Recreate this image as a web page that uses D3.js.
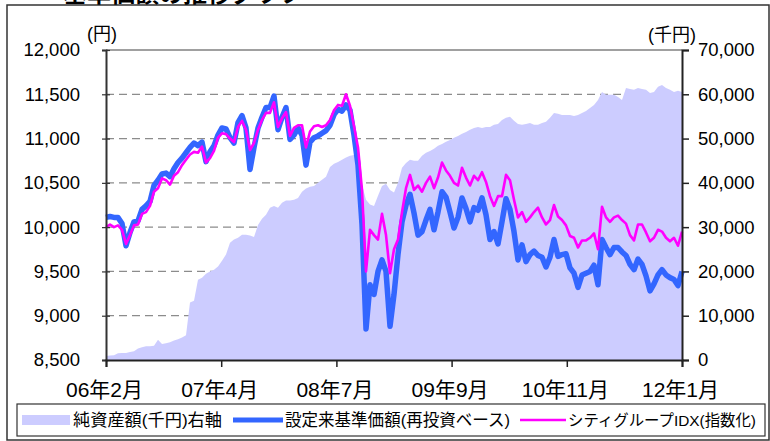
<!DOCTYPE html>
<html>
<head>
<meta charset="utf-8">
<script src="https://cdn.jsdelivr.net/npm/d3@7"></script>
<style>
  body { margin: 0; background: #fff; }
  svg { display: block; }
  text { font-family: "Liberation Sans", Arial, "Noto Sans CJK JP", sans-serif; fill: #000; }
</style>
</head>
<body>
<svg id="chart" width="770" height="441"></svg>
<script>
// x-axis category labels (evenly spaced over the period)
const tickLabels = ['06年2月', '07年4月', '08年7月', '09年9月', '10年11月', '12年1月'];

// 設定来基準価額(再投資ベース), 円
const navValues = [
  10110, 10120, 10110, 10110, 10040, 9790, 9940, 10060, 10070, 10200,
  10240, 10290, 10470, 10530, 10600, 10610, 10570, 10660, 10730, 10780,
  10840, 10900, 10950, 10920, 10960, 10740, 10850, 10920, 11040, 11120,
  11110, 11010, 10950, 11180, 11260, 11120, 10650, 10900, 11120, 11240,
  11350, 11350, 11480, 11100, 11240, 11350, 10990, 11040, 11120, 11040,
  10700, 10960, 11010, 11030, 11060, 11090, 11150, 11270, 11330, 11310,
  11380, 11320, 11040, 10700, 10030, 8850, 9350, 9240, 9500, 9630,
  9500, 8880, 9240, 9690, 10060, 10250, 10370, 10160, 9910, 9950,
  10080, 10200, 9970, 10170, 10400, 10340, 10170, 9990, 10110, 10330,
  10210, 10060, 10220, 10190, 10330, 10140, 9860, 9950, 9810, 10060,
  10320, 10200, 9950, 9630, 9800, 9610, 9690, 9730, 9680, 9660,
  9550, 9660, 9860, 9670, 9690, 9700, 9540, 9480, 9320, 9460,
  9480, 9500, 9570, 9350, 9860, 9770, 9690, 9770, 9770, 9720,
  9680, 9580, 9520, 9640, 9580, 9450, 9280, 9360, 9460, 9520,
  9460, 9430, 9410, 9340, 9500
];

// シティグループIDX(指数化), 円
const indexValues = [
  10000, 10030, 10000, 10020, 9970, 9810, 9910, 10020, 10030, 10150,
  10170, 10240, 10400, 10440, 10550, 10530, 10480, 10580, 10620, 10700,
  10760, 10820, 10850, 10840, 10910, 10730, 10780, 10860, 11010, 11060,
  11050, 11000, 10960, 11130, 11200, 11100, 10870, 10950, 11100, 11210,
  11290, 11290, 11410, 11130, 11230, 11300, 11030, 11120, 11150, 11150,
  10900, 11080, 11140, 11150, 11130, 11150, 11210, 11320, 11380, 11370,
  11500, 11370, 11140, 10900, 10420, 9500, 9970, 9910, 9860, 10150,
  9910, 9480, 9750, 9860, 10170, 10440, 10590, 10420, 10470, 10400,
  10500, 10570, 10440, 10560, 10730, 10640, 10580, 10500, 10470, 10670,
  10560, 10470, 10580, 10530, 10620, 10510, 10350, 10240, 10350, 10350,
  10590, 10530, 10310, 10110, 10170, 10060, 10110, 10170, 10220, 10110,
  10030, 10080, 10250, 10120, 10080, 10020, 9900, 9880, 9770, 9850,
  9850, 9880, 9930, 9750, 10230, 10110, 10060, 10110, 10130, 10080,
  10040, 9910, 9850, 10030, 10030, 9940, 9840, 9880, 9970, 9950,
  9880, 9840, 9880, 9790, 9950
];

// 純資産額(千円), right axis
const netAssets = [
  900, 1000, 1100, 1500, 1600, 1600, 1800, 2000, 2600, 2900,
  3100, 3100, 3200, 4600, 3600, 3800, 4000, 4400, 4700, 5100,
  5600, 13000, 13400, 18100, 18600, 19500, 20000, 20400, 21100, 22400,
  23800, 26500, 27200, 27600, 28300, 28300, 28100, 27800, 30500, 31900,
  32800, 34400, 34800, 34400, 35500, 36000, 36000, 36200, 36600, 38000,
  38700, 39100, 39300, 40000, 40700, 41400, 43600, 44300, 44700, 45200,
  45700, 46100, 46300, 44100, 39600, 36200, 35100, 34800, 37100, 39300,
  39800, 38400, 37800, 40000, 43400, 44500, 45200, 45000, 45000, 46100,
  46800, 47200, 47700, 48400, 48800, 49300, 49700, 50200, 50600, 51100,
  51500, 52000, 52400, 52600, 52400, 52600, 52600, 53100, 53300, 54200,
  54700, 54900, 54000, 53300, 53100, 53300, 53500, 53100, 53100, 53500,
  53800, 54700, 55800, 55600, 55300, 55300, 55300, 55100, 55300, 55800,
  56200, 56900, 57600, 58700, 60500, 59900, 59900, 59900, 59400, 58700,
  61400, 61200, 61000, 61400, 61200, 61000, 60300, 60500, 61700, 62100,
  61400, 61000, 60500, 60800, 60500
];

const leftTicks = [8500, 9000, 9500, 10000, 10500, 11000, 11500, 12000];
const rightTicks = [0, 10000, 20000, 30000, 40000, 50000, 60000, 70000];

const legendItems = ['純資産額(千円)右軸', '設定来基準価額(再投資ベース)', 'シティグループIDX(指数化)'];

const svg = d3.select('#chart');

const plotLeft = 106, plotRight = 682, plotTop = 50, plotBottom = 360;

const x = d3.scaleLinear().domain([0, navValues.length - 1]).range([plotLeft, plotRight]);
const xCat = d3.scalePoint().domain(tickLabels).range([plotLeft, plotRight]);
const yL = d3.scaleLinear().domain([8500, 12000]).range([plotBottom, plotTop]);
const yR = d3.scaleLinear().domain([0, 70000]).range([plotBottom, plotTop]);

// outer frame + title (cut off at the top, as in the source)
svg.append('rect')
  .attr('x', 7).attr('y', 5).attr('width', 762).attr('height', 435)
  .attr('fill', 'none').attr('stroke', '#333').attr('stroke-width', 1.5);

svg.append('text')
  .attr('x', 63).attr('y', 2)
  .attr('font-size', 24).attr('font-weight', 'bold')
  .text('基準価額の推移グラフ');

// dashed gridlines (behind the area)
svg.append('g')
  .selectAll('line')
  .data(leftTicks.slice(1, -1))
  .join('line')
  .attr('x1', plotLeft).attr('x2', plotRight)
  .attr('y1', d => yL(d)).attr('y2', d => yL(d))
  .attr('stroke', '#8c8c8c').attr('stroke-width', 1.2)
  .attr('stroke-dasharray', '8,5');

// net assets area
const area = d3.area()
  .x((d, i) => x(i))
  .y0(plotBottom)
  .y1(d => yR(d));

svg.append('path')
  .datum(netAssets)
  .attr('d', area)
  .attr('fill', '#ccccff');

// lines
const lineL = d3.line().x((d, i) => x(i)).y(d => yL(d));

svg.append('path')
  .datum(navValues)
  .attr('d', lineL)
  .attr('fill', 'none')
  .attr('stroke', '#3366ff')
  .attr('stroke-width', 5.5)
  .attr('stroke-linejoin', 'round');

svg.append('path')
  .datum(indexValues)
  .attr('d', lineL)
  .attr('fill', 'none')
  .attr('stroke', '#ff00ff')
  .attr('stroke-width', 2.6)
  .attr('stroke-linejoin', 'round');

// plot border
svg.append('line')
  .attr('x1', plotLeft).attr('x2', plotRight).attr('y1', plotTop).attr('y2', plotTop)
  .attr('stroke', '#808080').attr('stroke-width', 1.5);

// left axis
const gL = svg.append('g')
  .attr('transform', `translate(${plotLeft},0)`)
  .call(d3.axisLeft(yL).tickValues(leftTicks).tickFormat(d3.format(',')).tickSize(4).tickPadding(22))
  .attr('font-family', null).attr('font-size', 18.5);
gL.select('.domain').attr('stroke', '#333').attr('stroke-width', 2);
gL.selectAll('.tick line').attr('x1', -4).attr('x2', 4).attr('stroke', '#333').attr('stroke-width', 1.2);
gL.selectAll('.tick text').attr('fill', '#000');

// right axis
const gR = svg.append('g')
  .attr('transform', `translate(${plotRight},0)`)
  .call(d3.axisRight(yR).tickValues(rightTicks).tickFormat(d3.format(',')).tickSize(7).tickPadding(9))
  .attr('font-family', null).attr('font-size', 18.5);
gR.select('.domain').attr('stroke', '#222').attr('stroke-width', 2);
gR.selectAll('.tick line').attr('stroke', '#222').attr('stroke-width', 1.5);
gR.selectAll('.tick text').attr('fill', '#000');

// bottom axis
const gB = svg.append('g')
  .attr('transform', `translate(0,${plotBottom})`)
  .call(d3.axisBottom(xCat).tickSize(7).tickPadding(15))
  .attr('font-family', null).attr('font-size', 21);
gB.select('.domain').attr('stroke', '#222').attr('stroke-width', 2);
gB.selectAll('.tick line').attr('stroke', '#222').attr('stroke-width', 1.5);
gB.selectAll('.tick text').attr('fill', '#000').attr('dx', -2);

// unit labels
svg.append('text').attr('x', 87).attr('y', 40).attr('font-size', 18).text('(円)');
svg.append('text').attr('x', 696).attr('y', 41).attr('font-size', 18)
  .attr('text-anchor', 'end').text('(千円)');

// legend
const lg = svg.append('g');
lg.append('rect')
  .attr('x', 17).attr('y', 404).attr('width', 748).attr('height', 32)
  .attr('fill', '#fff').attr('stroke', '#333').attr('stroke-width', 1.2);

function legendText(tx, width, size, label) {
  lg.append('text')
    .attr('x', tx).attr('y', 426).attr('font-size', size)
    .attr('textLength', width).attr('lengthAdjust', 'spacingAndGlyphs')
    .text(label);
}

lg.append('rect')
  .attr('x', 22).attr('y', 415).attr('width', 48).attr('height', 10)
  .attr('fill', '#ccccff');
legendText(73, 149, 17, legendItems[0]);

lg.append('line')
  .attr('x1', 233).attr('x2', 283).attr('y1', 420).attr('y2', 420)
  .attr('stroke', '#3366ff').attr('stroke-width', 5);
legendText(285, 225, 17, legendItems[1]);

lg.append('line')
  .attr('x1', 520).attr('x2', 566).attr('y1', 420).attr('y2', 420)
  .attr('stroke', '#ff00ff').attr('stroke-width', 2.6);
legendText(568, 188, 15.5, legendItems[2]);
</script>
</body>
</html>
